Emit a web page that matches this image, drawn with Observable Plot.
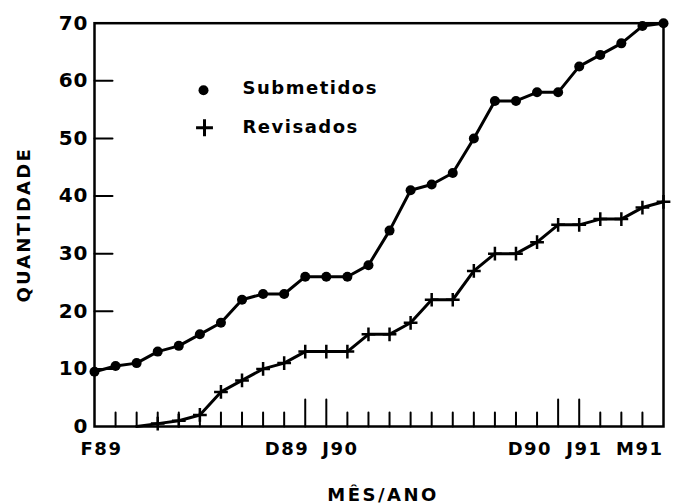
<!DOCTYPE html>
<html><head><meta charset="utf-8">
<script src="https://cdn.jsdelivr.net/npm/d3@7"></script>
<script src="https://cdn.jsdelivr.net/npm/@observablehq/plot@0.6"></script>
<style>body{margin:0;background:#fff}</style>
</head><body><div id="chart"></div>
<script>
// Months from Feb 1989 to May 1991
const months = ["1989-02","1989-03","1989-04","1989-05","1989-06","1989-07","1989-08","1989-09","1989-10","1989-11","1989-12",
  "1990-01","1990-02","1990-03","1990-04","1990-05","1990-06","1990-07","1990-08","1990-09","1990-10","1990-11","1990-12",
  "1991-01","1991-02","1991-03","1991-04","1991-05"];
const submetidos = [9.5,10.5,11,13,14,16,18,22,23,23,26,26,26,28,34,41,42,44,50,56.5,56.5,58,58,62.5,64.5,66.5,69.5,70];
const revisados  = [null,null,0,0.5,1,2,6,8,10,11,13,13,13,16,16,18,22,22,27,30,30,32,35,35,36,36,38,39];
const labelMonths = ["1989-02","1989-12","1990-01","1990-12","1991-01","1991-05"];
const labelTexts  = ["F89","D89","J90","D90","J91","M91"];
const tallMonths  = ["1989-12","1990-01","1990-12","1991-01"];
const yTicks = [0,10,20,30,40,50,60,70];
const legendNames = ["Submetidos","Revisados"];

const idx = m => months.indexOf(m);
const rows = months.map((m, i) => ({m, i, s: submetidos[i], r: revisados[i]}));
const smallMonths = months.slice(1, -1).filter(m => !tallMonths.includes(m));

// label styling (anchor, offset) per label
const labelStyle = {
  "F89": ["middle", 7], "D89": ["end", 4], "J90": ["start", -4],
  "D90": ["end", -6], "J91": ["start", -13], "M91": ["end", 0]
};

const chart = Plot.plot({
  width: 692, height: 504,
  marginLeft: 94, marginRight: 29, marginTop: 22.7, marginBottom: 78,
  style: {fontFamily: "'DejaVu Sans', sans-serif", fontWeight: "bold", background: "#fff", color: "#000"},
  x: {domain: [0, 27], axis: null},
  y: {domain: [0, 70], axis: null},
  marks: [
    Plot.frame({stroke: "black", strokeWidth: 2.5}),
    // x ticks (pointing up)
    Plot.vector(smallMonths, {x: idx, frameAnchor: "bottom", length: 14, anchor: "start", shape: "spike", r: 0, stroke: "black", strokeWidth: 2, fill: "none"}),
    Plot.vector(tallMonths, {x: idx, frameAnchor: "bottom", length: 27, anchor: "start", shape: "spike", r: 0, stroke: "black", strokeWidth: 2, fill: "none"}),
    // y ticks (pointing right)
    Plot.vector(yTicks.slice(1, -1), {y: d => d, frameAnchor: "left", rotate: 90, length: 18, anchor: "start", shape: "spike", r: 0, stroke: "black", strokeWidth: 2, fill: "none"}),
    // y labels
    Plot.text(yTicks, {y: d => d, frameAnchor: "left", text: d => String(d), textAnchor: "end", lineAnchor: "middle", dx: -6, fontSize: 20, fill: "black"}),
    // x labels
    Plot.text(labelMonths, {x: idx, frameAnchor: "bottom", text: (d, i) => labelTexts[i],
      textAnchor: "start", lineAnchor: "middle", dy: 23, fontSize: 18, fill: "black"}),
    // axis titles
    Plot.text(["QUANTIDADE"], {frameAnchor: "left", dx: -70, rotate: -90, textAnchor: "middle", lineAnchor: "middle", fontSize: 18, fill: "black"}),
    Plot.text(["MÊS/ANO"], {frameAnchor: "bottom", dx: 4, dy: 69, textAnchor: "middle", lineAnchor: "middle", fontSize: 18, fill: "black"}),
    // series
    Plot.line(rows, {x: "i", y: "s", stroke: "black", strokeWidth: 3, strokeLinejoin: "round", strokeLinecap: "round"}),
    Plot.dot(rows, {x: "i", y: "s", r: 5, fill: "black"}),
    Plot.line(rows.filter(d => d.r != null), {x: "i", y: "r", stroke: "black", strokeWidth: 3, strokeLinejoin: "round", strokeLinecap: "round"}),
    Plot.dot(rows.filter(d => d.r != null && d.r > 0), {x: "i", y: "r", symbol: "plus", r: 4.5, stroke: "black", strokeWidth: 2.5}),
    // legend
    Plot.dot([legendNames[0]], {frameAnchor: "top-left", dx: 109, dy: 67, r: 5, fill: "black"}),
    Plot.text([legendNames[0]], {frameAnchor: "top-left", dx: 148, dy: 65, text: d => d, textAnchor: "start", lineAnchor: "middle", fontSize: 18, fill: "black"}),
    Plot.dot([legendNames[1]], {frameAnchor: "top-left", dx: 110, dy: 104.6, symbol: "plus", r: 5.5, stroke: "black", strokeWidth: 3}),
    Plot.text([legendNames[1]], {frameAnchor: "top-left", dx: 148, dy: 104.5, text: d => d, textAnchor: "start", lineAnchor: "middle", fontSize: 18, fill: "black"})
  ]
});

// apply per-label anchors/offsets and letter-spacing
chart.querySelectorAll("text").forEach(t => {
  const txt = t.textContent;
  const s = labelStyle[txt];
  if (s) {
    t.setAttribute("text-anchor", s[0]);
    const tr = t.getAttribute("transform") || "";
    t.setAttribute("transform", tr + ` translate(${s[1]},0)`);
  }
  if (txt === "QUANTIDADE") t.style.letterSpacing = "2.2px";
  else if (txt === "MÊS/ANO") t.style.letterSpacing = "2.5px";
  else if (legendNames.includes(txt)) t.style.letterSpacing = "1.5px";
  else if (labelTexts.includes(txt)) t.style.letterSpacing = "1.5px";
  else if (yTicks.map(String).includes(txt)) t.style.letterSpacing = "1px";
});
document.getElementById("chart").appendChild(chart);
</script>
</body></html>
